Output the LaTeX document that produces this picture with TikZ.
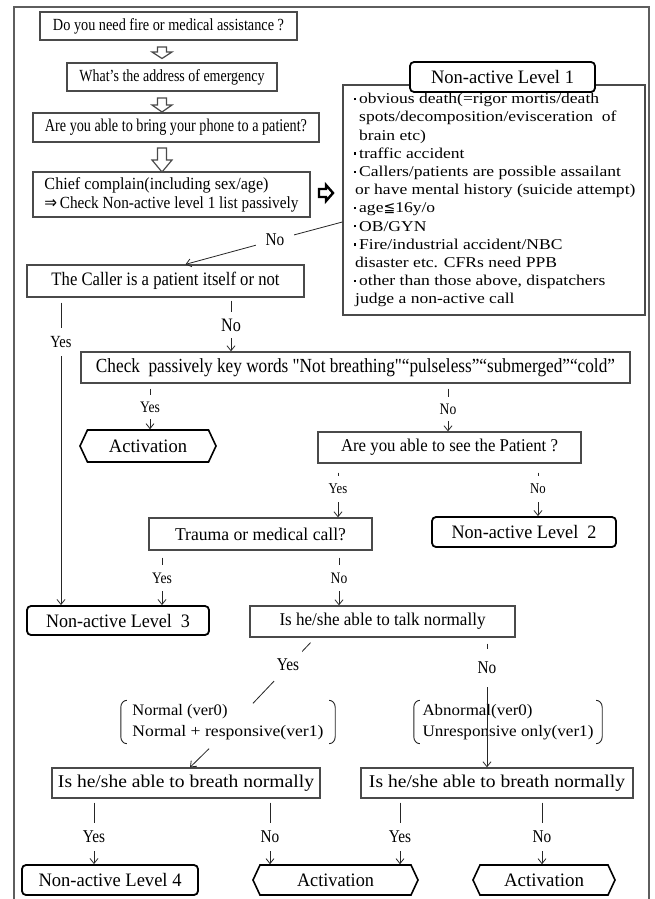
\documentclass[tikz,border=0pt]{standalone}
\usepackage{fontspec}
\usepackage{graphicx}
\setmainfont{Liberation Serif}
\newfontfamily\cond{Liberation Serif}[FakeStretch=0.85]
\newfontfamily\lst{Liberation Serif}[FakeStretch=1.17]
\newfontfamily\djv{DejaVu Sans}
\usetikzlibrary{arrows.meta,calc,shapes.symbols}
\newcommand{\fw}[3]{\resizebox{#1pt}{\height}{\fontsize{#2}{#2}\selectfont #3}}
\newcommand{\bul}{\makebox[9pt][c]{\raisebox{3.6pt}{\rule{2.2pt}{2.2pt}}}}
\newcommand{\sq}{{\XeTeXglyph\XeTeXcharglyph"0022 }}
\definecolor{boxc}{HTML}{4A4A4A}
\definecolor{framec}{HTML}{5E5E5E}
\begin{document}
\begin{tikzpicture}[x=1pt,y=-1pt,
  box/.style={draw=boxc,line width=1.3pt,rectangle,inner sep=0pt},
  nabox/.style={draw=black,line width=1.8pt,rounded corners=4pt,fill=white,inner sep=0pt},
  actv/.style={signal,signal to=east and west,signal pointer angle=130,draw=black,line width=1.6pt,inner sep=0pt},
  lab/.style={fill=white,inner xsep=1pt,inner ysep=6pt},
  conn/.style={draw=black!85,line width=0.8pt},
  arr/.style={conn,-{Straight Barb[length=5pt,width=8pt]}},
  hollow/.style={draw=boxc,line width=1.2pt,fill=white}]
\useasboundingbox (0,0) rectangle (654,899);
\fill[white] (0,0) rectangle (654,899);
% frame
\draw[framec,line width=2pt] (14,899) -- (14,7) -- (649,7) -- (649,899);

% top boxes
\node[box,minimum width=257pt,minimum height=28pt] (b1) at (168.5,26) {\fw{231}{17}{Do you need fire or medical assistance ?}};
\node[box,minimum width=210pt,minimum height=28pt] (b2) at (172,77) {\fw{185}{17}{What’s the address of emergency}};
\node[box,minimum width=286pt,minimum height=29pt] (b3) at (176,127.5) {\fw{262}{18}{Are you able to bring your phone to a patient?}};
\node[box,minimum width=277pt,minimum height=45pt,align=left,font=\fontsize{17}{19}\selectfont] (b4) at (171.5,194.5)
  {\fw{224}{17}{Chief complain(including sex/age)}\\\fw{254}{17}{{\djv ⇒}\,Check Non-active level 1 list passively}};

% hollow down arrows
\draw[hollow] (157.5,47) -- (166.5,47) -- (166.5,52) -- (172,52) -- (162,58.5) -- (152,52) -- (157.5,52) -- cycle;
\draw[hollow] (157.5,98) -- (166.5,98) -- (166.5,105) -- (172,105) -- (162,112) -- (152,105) -- (157.5,105) -- cycle;
\draw[hollow] (157.5,148) -- (166.5,148) -- (166.5,160) -- (172,160) -- (162,172) -- (152,160) -- (157.5,160) -- cycle;
% thick right arrow
\draw[black,line width=2.4pt,line join=miter] (319,189) -- (326,189) -- (326,185) -- (333,193) -- (326,201) -- (326,197) -- (319,197) -- cycle;

% Non-active level 1
\node[box,minimum width=302pt,minimum height=230pt] (na1) at (494,200) {};
\node[nabox,minimum width=185pt,minimum height=30pt] (na1t) at (502.5,77) {\fw{143}{19}{Non-active Level 1}};
\node[anchor=north west,inner sep=0pt,align=left,font=\lst\fontsize{15}{18.2}\selectfont] (lst) at (350,93) {%
\bul obvious death(=rigor mortis/death\\
\hspace{9pt}spots/decomposition/evisceration\ \ of\\
\hspace{9pt}brain etc)\\
\bul traffic accident\\
\bul Callers/patients are possible assailant\\
\hspace{5pt}or have mental history (suicide attempt)\\
\bul age{\djv\fontsize{14}{14}\selectfont ≦}16y/o\\
\bul OB/GYN\\
\bul Fire/industrial accident/NBC\\
\hspace{5pt}disaster etc. CFRs need PPB\\
\bul other than those above, dispatchers\\
\hspace{5pt}judge a non-active call};

\node[box,minimum width=277pt,minimum height=32pt] (b5) at (165.5,281) {\fw{228}{19}{The Caller is a patient itself or not}};
\node[box,minimum width=549pt,minimum height=31pt] (chk) at (355.5,367.5) {\fw{519}{20}{Check\ \ passively key words \sq Not breathing\sq“pulseless”“submerged”“cold”}};
\node[actv,minimum width=136pt,minimum height=32pt] (act1) at (148,446) {\fw{78}{19}{Activation}};
\node[box,minimum width=263pt,minimum height=31pt] (see) at (449.5,447.5) {\fw{217}{18}{Are you able to see the Patient ?}};
\node[box,minimum width=223pt,minimum height=32pt] (trauma) at (260.5,534) {\fw{171}{18}{Trauma or medical call?}};
\node[nabox,minimum width=184pt,minimum height=30pt] (na2) at (524,532) {\fw{145}{19}{Non-active Level\ \ 2}};
\node[nabox,minimum width=182pt,minimum height=29pt] (na3) at (118,620.5) {\fw{144}{19}{Non-active Level\ \ 3}};
\node[box,minimum width=265pt,minimum height=31pt] (talk) at (382.5,621.5) {\fw{206}{18}{Is he/she able to talk normally}};
\node[inner sep=0pt,minimum width=214pt,minimum height=43pt,align=left,font=\fontsize{15}{21}\selectfont] (nb) at (228,722)
  {\fw{95}{16}{Normal (ver0)}\\\fw{191}{16}{Normal + responsive(ver1)}};
\node[inner sep=0pt,minimum width=188pt,minimum height=43pt,align=left,font=\fontsize{15}{21}\selectfont] (ab) at (508,722)
  {\fw{110}{16}{Abnormal(ver0)}\\\fw{171}{16}{Unresponsive only(ver1)}};
\node[box,minimum width=268pt,minimum height=30pt] (br1) at (186,783) {\fw{256}{18}{Is he/she able to breath normally}};
\node[box,minimum width=272pt,minimum height=30pt] (br2) at (497,783) {\fw{256}{18}{Is he/she able to breath normally}};
\node[nabox,minimum width=176pt,minimum height=30pt] (na4) at (110,880) {\fw{143}{19}{Non-active Level 4}};
\node[actv,minimum width=165pt,minimum height=30pt] (act2) at (335.5,880) {\fw{77}{19}{Activation}};
\node[actv,minimum width=142pt,minimum height=30pt] (act3) at (544,880) {\fw{80}{19}{Activation}};

% brackets
\draw[conn,line width=0.9pt] ($(nb.north west)+(6,0)$) to[out=180,in=90] ($(nb.north west)+(0,7)$) -- ($(nb.south west)+(0,-7)$) to[out=-90,in=180] ($(nb.south west)+(6,0)$);
\draw[conn,line width=0.9pt] ($(nb.north east)+(-6,0)$) to[out=0,in=90] ($(nb.north east)+(0,7)$) -- ($(nb.south east)+(0,-7)$) to[out=-90,in=0] ($(nb.south east)+(-6,0)$);
\draw[conn,line width=0.9pt] ($(ab.north west)+(6,0)$) to[out=180,in=90] ($(ab.north west)+(0,7)$) -- ($(ab.south west)+(0,-7)$) to[out=-90,in=180] ($(ab.south west)+(6,0)$);
\draw[conn,line width=0.9pt] ($(ab.north east)+(-6,0)$) to[out=0,in=90] ($(ab.north east)+(0,7)$) -- ($(ab.south east)+(0,-7)$) to[out=-90,in=0] ($(ab.south east)+(-6,0)$);

% label positions
\coordinate (pNo1) at (275,240);
\coordinate (pYL) at (61,342);
\coordinate (pN2) at (231,325);
\coordinate (pY3) at (150,407);
\coordinate (pN3) at (448,409);
\coordinate (pY4) at (338,489);
\coordinate (pN4) at (538,489);
\coordinate (pY5) at (162,578);
\coordinate (pN5) at (339,578);
\coordinate (pY6) at (288,665);
\coordinate (pN6) at (487,668);
\coordinate (pY7) at (94,837);
\coordinate (pN7) at (270,837);
\coordinate (pY8) at (400,837);
\coordinate (pN8) at (542,837);

% connectors
\draw[conn] ($(na1.west)+(0,22)$) -- (pNo1);
\draw[arr] (pNo1) -- ($(b5.north)+(20,0)$);
\draw[arr,shorten <=5pt] (b5.south -| pYL) -- (na3.north -| pYL);
\draw[arr,shorten <=3pt] (b5.south -| pN2) -- (chk.north -| pN2);
\draw[arr,shorten <=5pt] (chk.south -| pY3) -- (act1.north -| pY3);
\draw[arr,shorten <=5pt] (chk.south -| pN3) -- (see.north -| pN3);
\draw[arr,shorten <=9pt] (see.south -| pY4) -- (trauma.north -| pY4);
\draw[arr,shorten <=9pt] (see.south -| pN4) -- (na2.north -| pN4);
\draw[arr,shorten <=7pt] (trauma.south -| pY5) -- (na3.north -| pY5);
\draw[arr,shorten <=7pt] (trauma.south -| pN5) -- (talk.north -| pN5);
\draw[conn] ($(talk.south)+(-72,5)$) -- ($(nb.north)+(25,3)$);
\draw[arr] ($(nb.south)+(-19,5)$) -- ($(br1.north)+(4,0)$);
\draw[arr,shorten <=6pt] (talk.south -| pN6) -- (br2.north -| pN6);
\draw[arr,shorten <=4pt] (br1.south -| pY7) -- (na4.north -| pY7);
\draw[arr,shorten <=4pt] (br1.south -| pN7) -- (act2.north -| pN7);
\draw[arr,shorten <=4pt] (br2.south -| pY8) -- (act2.north -| pY8);
\draw[arr,shorten <=4pt] (br2.south -| pN8) -- (act3.north -| pN8);

% labels
\node[lab,inner xsep=10pt,inner ysep=2pt,font=\cond\fontsize{18}{18}\selectfont] (lNo1) at (pNo1) {No};
\node[lab,inner ysep=8pt,font=\cond\fontsize{17}{17}\selectfont] (lYL) at (pYL) {Yes};
\node[lab,inner ysep=7pt,font=\cond\fontsize{19}{19}\selectfont] (lN2) at (pN2) {No};
\node[lab,inner ysep=7pt,font=\cond\fontsize{16}{16}\selectfont] (lY3) at (pY3) {Yes};
\node[lab,inner ysep=7pt,font=\cond\fontsize{16}{16}\selectfont] (lN3) at (pN3) {No};
\node[lab,inner ysep=8pt,font=\cond\fontsize{15}{15}\selectfont] (lY4) at (pY4) {Yes};
\node[lab,inner ysep=8pt,font=\cond\fontsize{15}{15}\selectfont] (lN4) at (pN4) {No};
\node[lab,inner ysep=8pt,font=\cond\fontsize{16}{16}\selectfont] (lY5) at (pY5) {Yes};
\node[lab,inner ysep=8pt,font=\cond\fontsize{16}{16}\selectfont] (lN5) at (pN5) {No};
\node[lab,inner xsep=3pt,inner ysep=10pt,font=\cond\fontsize{18}{18}\selectfont] (lY6) at (pY6) {Yes};
\node[lab,inner ysep=13pt,font=\cond\fontsize{18}{18}\selectfont] (lN6) at (pN6) {No};
\node[lab,inner ysep=8pt,font=\cond\fontsize{18}{18}\selectfont] (lY7) at (pY7) {Yes};
\node[lab,inner ysep=8pt,font=\cond\fontsize{18}{18}\selectfont] (lN7) at (pN7) {No};
\node[lab,inner ysep=8pt,font=\cond\fontsize{18}{18}\selectfont] (lY8) at (pY8) {Yes};
\node[lab,inner ysep=8pt,font=\cond\fontsize{18}{18}\selectfont] (lN8) at (pN8) {No};
\end{tikzpicture}
\end{document}
